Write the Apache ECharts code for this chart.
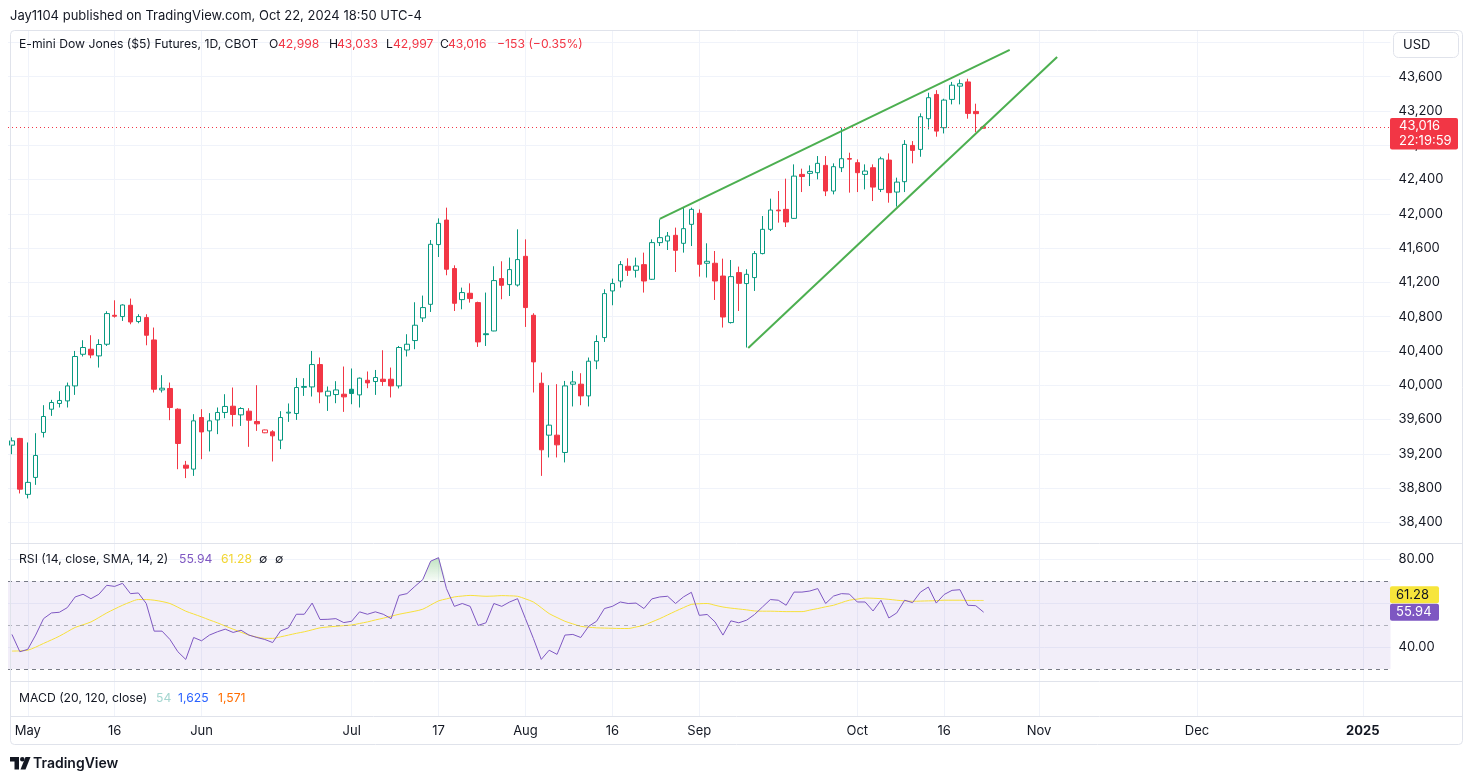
<!DOCTYPE html>
<html><head><meta charset="utf-8">
<script src="https://cdn.jsdelivr.net/npm/echarts@6/dist/echarts.min.js"></script>
<style>html,body{margin:0;padding:0;background:#fff}#c{width:1474px;height:781px}</style>
</head><body><div id="c"></div><script>
// ---------- data ----------
const dates = ['04-29','04-30',
'05-01','05-02','05-03','05-06','05-07','05-08','05-09','05-10','05-13','05-14','05-15','05-16','05-17','05-20','05-21','05-22','05-23','05-24','05-28','05-29','05-30','05-31',
'06-03','06-04','06-05','06-06','06-07','06-10','06-11','06-12','06-13','06-14','06-17','06-18','06-20','06-21','06-24','06-25','06-26','06-27','06-28',
'07-01','07-02','07-03','07-05','07-08','07-09','07-10','07-11','07-12','07-15','07-16','07-17','07-18','07-19','07-22','07-23','07-24','07-25','07-26','07-29','07-30','07-31',
'08-01','08-02','08-05','08-06','08-07','08-08','08-09','08-12','08-13','08-14','08-15','08-16','08-19','08-20','08-21','08-22','08-23','08-26','08-27','08-28','08-29','08-30',
'09-03','09-04','09-05','09-06','09-09','09-10','09-11','09-12','09-13','09-16','09-17','09-18','09-19','09-20','09-23','09-24','09-25','09-26','09-27','09-30',
'10-01','10-02','10-03','10-04','10-07','10-08','10-09','10-10','10-11','10-14','10-15','10-16','10-17','10-18','10-21','10-22','10-23'];

const open = [39300,39379,38726,38924,39449,39720,39787,39817,39992,40361,40420,40342,40478,40816,40801,40933,40743,40789,40528,39945,
39962,39720,39067,39021,39623,39467,39595,39682,39755,39654,39697,39577,39445,39456,39359,39675,39670,39975,39980,40241,
39875,39891,39895,39953,39887,40058,40043,40070,40070,39992,40411,40521,40785,40944,41641,41927,41361,40999,41073,40964,
40600,40633,41244,41174,41169,41504,40816,40023,39417,39417,39215,40012,40012,39875,40283,40556,41100,41216,41388,41341,
41407,41236,41664,41683,41749,41656,41877,42006,41423,41423,41274,40731,41314,41186,41256,41536,41819,42044,42052,41947,
42460,42472,42480,42565,42266,42538,42645,42597,42460,42538,42285,42627,42254,42375,42798,42752,43110,43393,43005,43335,
43490,43539,43195,42998];
const high = [39390,39385,39332,39440,39767,39829,39930,40031,40400,40525,40583,40536,40863,40991,40944,41011,40828,40828,40673,40117,
40031,39730,39117,39662,39720,39674,39740,39895,39973,39743,39732,40000,39482,39475,39697,39787,40085,40082,40400,40323,
39985,40047,40218,40195,40090,40160,40178,40408,40206,40458,40595,40968,41046,41694,41947,42072,41399,41139,41189,40975,
41081,41388,41446,41489,41819,41702,40840,40148,40000,40012,40050,40167,40140,40323,40583,41119,41244,41449,41481,41489,
41547,41702,41936,41788,41839,42072,42072,42052,41656,41566,41477,41461,41384,41353,41566,41974,42177,42266,42410,42577,
42527,42565,42674,42674,42589,43005,42713,42635,42577,42577,42666,42705,42422,42860,42849,43172,43413,43443,43343,43539,
43568,43576,43285,43033];
const low = [39195,38737,38679,38837,39390,39642,39740,39740,39887,40335,40315,40206,40458,40789,40750,40711,40723,40466,39915,39915,
39592,39020,38916,38942,39137,39227,39429,39615,39518,39525,39281,39467,39440,39110,39254,39572,39595,39875,39868,39790,
39700,39790,39689,39778,39740,39965,39887,39992,39857,39962,40335,40420,40738,40855,41496,41283,40866,40886,40964,40447,
40458,40630,41003,41041,41151,40680,39915,38942,39157,39157,39099,39752,39767,39752,40187,40505,40933,41139,41275,41256,
41081,41228,41624,41578,41321,41547,41624,41267,41256,40995,40673,40720,40866,40440,41100,41527,41799,41897,41846,41940,
42254,42324,42402,42207,42227,42487,42247,42254,42285,42149,42254,42130,42084,42254,42589,42666,42985,42900,42938,43277,
43277,43110,42953,42997];
const close = [39351,38787,38866,39180,39635,39798,39822,39992,40335,40440,40353,40475,40836,40805,40936,40738,40801,40583,39953,39965,
39740,39320,39032,39584,39455,39584,39682,39752,39658,39728,39592,39549,39478,39409,39623,39685,39973,39985,40241,39922,
39930,39945,39864,39903,40082,40027,40090,40043,39992,40440,40478,40700,40906,41644,41889,41353,40956,41081,41011,40505,
40590,41221,41166,41349,41466,40906,40272,39246,39534,39304,39992,40038,39875,40280,40510,41069,41186,41407,41341,41391,
41216,41664,41722,41741,41574,41827,42052,41411,41446,41216,40796,41267,41189,41294,41536,41819,42044,42035,41904,42440,
42435,42495,42589,42266,42550,42643,42638,42480,42499,42312,42642,42247,42370,42810,42740,43133,43355,42965,43327,43501,
43518,43172,43169,43016];

const rsi = [45.8,37.9,39.0,45.5,53.0,55.6,55.9,58.0,62.9,64.1,62.1,64.1,68.2,67.7,69.1,64.4,64.7,59.9,47.3,47.3,
43.5,37.9,34.4,44.4,42.9,45.5,47.0,48.2,46.7,47.7,45.5,44.4,43.5,42.1,47.4,48.8,55.0,55.0,60.1,52.6,
52.7,53.0,51.2,51.8,56.1,55.0,56.1,55.0,53.0,63.6,64.4,67.7,70.8,79.2,80.8,66.7,58.6,59.9,58.6,49.9,
51.1,59.9,58.6,60.6,62.1,53.0,44.0,34.4,38.6,36.7,45.5,45.8,44.4,49.5,51.8,57.6,58.6,60.6,59.9,60.1,
57.6,62.0,62.9,63.2,59.9,62.9,65.0,54.5,54.9,51.5,45.5,52.0,51.1,52.3,54.9,58.3,61.7,61.4,59.1,65.1,
65.1,65.6,66.7,59.9,63.3,64.4,64.2,60.6,60.6,56.5,61.4,53.3,55.6,61.4,60.3,65.1,67.4,60.1,64.0,65.9,
66.2,59.1,58.9,55.94];
const rsiSma = [38.2,38.3,38.6,40.0,41.7,43.3,45.0,47.0,49.0,50.2,51.5,53.5,55.6,57.4,59.1,60.6,61.7,61.7,61.4,60.8,
59.9,58.2,56.4,55.1,53.8,52.4,51.1,49.6,48.2,46.8,45.5,44.6,44.0,44.0,44.7,45.5,46.3,47.0,47.9,48.8,
49.2,49.5,49.8,50.1,50.8,51.5,52.4,53.2,54.1,55.0,55.7,56.4,57.3,59.2,61.1,62.0,62.9,63.3,63.6,63.4,
63.2,63.3,63.5,63.4,63.2,62.0,60.6,58.0,55.3,53.5,51.8,50.6,49.5,49.1,48.8,48.7,48.6,48.5,48.5,49.2,
50.0,51.5,53.0,54.7,56.4,58.0,59.5,59.8,59.9,59.1,58.3,57.8,57.4,57.0,56.5,56.4,56.4,56.3,56.2,56.2,
56.2,56.9,57.6,58.4,59.1,60.3,61.4,61.9,62.4,62.3,62.1,61.8,61.4,61.1,60.9,61.0,61.1,61.2,61.4,61.4,
61.4,61.3,61.3,61.28];

const timeLabelIdx = [2,13,24,43,54,65,76,87,107,118,130,150,171];
const timeLabels = ['May','16','Jun','Jul','17','Aug','16','Sep','Oct','16','Nov','Dec','2025'];
const trendUpper = [[82.0,41940],[126.3,43912]];
const trendLower = [[93.2,40434],[132.3,43830]];
const rsiLevels = [70,50,30];
const lastPrice = 43016, countdown = '22:19:59';
const rsiLast = 55.94, smaLast = 61.28;
const totalSlots = 175;

// ---------- chart ----------
const FONT = 'Inter, "Noto Sans", sans-serif';
const TXT = '#131722', GREEN = '#089981', RED = '#f23645', GRIDC = '#f0f3fa';
const chart = echarts.init(document.getElementById('c'));
const cats = [];
for (let i = 0; i < totalSlots; i++) cats.push(i < dates.length ? dates[i] : 'f' + i);
const labelMap = {};
timeLabelIdx.forEach((k, j) => labelMap[k] = timeLabels[j]);

const upData = [], dnData = [];
for (let i = 0; i < dates.length; i++) {
  const up = i === 0 ? true : close[i] >= close[i - 1];
  const item = [open[i], close[i], low[i], high[i]];
  upData.push(up ? item : '-'); dnData.push(up ? '-' : item);
}
const obBase = rsi.map(() => 70);
const obTop = rsi.map(v => Math.max(v, 70) - 70);

const GL = 8, GW = 1382.5;
const vLine = (xi, yi) => ({
  type: 'line', xAxisIndex: xi, yAxisIndex: yi, data: [], silent: true, z: 0,
  markLine: { silent: true, symbol: 'none', z: 0, label: { show: false },
    lineStyle: { color: GRIDC, width: 1, type: 'solid' },
    data: timeLabelIdx.map(k => ({ xAxis: k })) }
});

chart.setOption({
  animation: false,
  textStyle: { fontFamily: FONT },
  grid: [
    { left: GL, width: GW, top: 8.15, height: 548.45 },
    { left: GL, width: GW, top: 537.5, height: 153.5 },
    { left: GL, width: GW, top: 682, height: 34 }
  ],
  xAxis: [
    { type: 'category', gridIndex: 0, data: cats, show: false },
    { type: 'category', gridIndex: 1, data: cats, show: false },
    { type: 'category', gridIndex: 2, data: cats, axisLine: { show: false }, axisTick: { show: false },
      axisLabel: { interval: 0, margin: 9, color: TXT, fontSize: 13, fontFamily: FONT,
        formatter: (v, i) => labelMap[i] === '2025' ? '{b|2025}' : (labelMap[i] || ''),
        rich: { b: { fontWeight: 'bold', fontSize: 13, color: TXT, fontFamily: FONT } } } },
    { type: 'value', gridIndex: 0, min: -0.5, max: totalSlots - 0.5, show: false },
    { type: 'value', gridIndex: 1, min: -0.5, max: totalSlots - 0.5, show: false },
    { type: 'value', gridIndex: 2, min: -0.5, max: totalSlots - 0.5, show: false }
  ],
  yAxis: [
    { type: 'value', gridIndex: 0, position: 'right', min: 38000, max: 44400, interval: 400,
      axisLine: { show: false }, axisTick: { show: false },
      axisLabel: { margin: 8, color: TXT, fontSize: 13, fontFamily: FONT, showMinLabel: false, showMaxLabel: false,
        formatter: v => (v >= 44000 || v <= 38000) ? '' : v.toLocaleString('en-US') },
      splitLine: { show: true, showMinLine: false, showMaxLine: false, lineStyle: { color: GRIDC, width: 1 } } },
    { type: 'value', gridIndex: 1, position: 'right', min: 20, max: 90, interval: 20,
      axisLine: { show: false }, axisTick: { show: false },
      axisLabel: { margin: 8, color: TXT, fontSize: 13, fontFamily: FONT, showMinLabel: false, showMaxLabel: false,
        formatter: v => (v === 80 || v === 40) ? v.toFixed(2) : '' },
      splitLine: { show: true, showMinLine: false, showMaxLine: false, lineStyle: { color: GRIDC, width: 1 } } },
    { type: 'value', gridIndex: 2, min: 0, max: 1, show: false }
  ],
  series: [
    vLine(3, 0), vLine(4, 1), vLine(5, 2),
    { name: 'up', type: 'candlestick', xAxisIndex: 0, yAxisIndex: 0, data: upData, barWidth: 5,
      itemStyle: { color: '#ffffff', color0: GREEN, borderColor: GREEN, borderColor0: GREEN, borderWidth: 1 } },
    { name: 'down', type: 'candlestick', xAxisIndex: 0, yAxisIndex: 0, data: dnData, barWidth: 5,
      itemStyle: { color: '#ffffff', color0: RED, borderColor: RED, borderColor0: RED, borderWidth: 1 } },
    { type: 'line', xAxisIndex: 3, yAxisIndex: 0, data: trendUpper, symbol: 'none', silent: true, z: 5,
      lineStyle: { color: '#4caf50', width: 2 } },
    { type: 'line', xAxisIndex: 3, yAxisIndex: 0, data: trendLower, symbol: 'none', silent: true, z: 5,
      lineStyle: { color: '#4caf50', width: 2 } },
    { type: 'line', xAxisIndex: 3, yAxisIndex: 0, data: [], silent: true,
      markLine: { silent: true, symbol: 'none', label: { show: false },
        lineStyle: { color: RED, width: 1, type: [1, 3] }, data: [{ yAxis: lastPrice }] } },
    { type: 'line', xAxisIndex: 1, yAxisIndex: 1, data: obBase, stack: 'ob', symbol: 'none', silent: true,
      lineStyle: { opacity: 0 },
      markArea: { silent: true, itemStyle: { color: 'rgba(126,87,194,0.1)' }, data: [[{ yAxis: 30 }, { yAxis: 70 }]] },
      markLine: { silent: true, symbol: 'none', label: { show: false },
        data: rsiLevels.map(l => ({ yAxis: l, lineStyle: { color: l === 50 ? 'rgba(120,123,134,0.55)' : '#787b86', width: 1, type: [4, 4] } })) } },
    { type: 'line', xAxisIndex: 1, yAxisIndex: 1, data: obTop, stack: 'ob', symbol: 'none', silent: true,
      lineStyle: { opacity: 0 },
      areaStyle: { color: new echarts.graphic.LinearGradient(0, 0, 0, 1, [
        { offset: 0, color: 'rgba(76,175,80,0.5)' }, { offset: 1, color: 'rgba(76,175,80,0.05)' }]) } },
    { name: 'RSI', type: 'line', xAxisIndex: 1, yAxisIndex: 1, data: rsi, symbol: 'none', z: 4,
      lineStyle: { color: '#7e57c2', width: 1 } },
    { name: 'SMA', type: 'line', xAxisIndex: 1, yAxisIndex: 1, data: rsiSma, symbol: 'none', smooth: 0.3, z: 3,
      lineStyle: { color: '#f7e03b', width: 1 } }
  ]
});

// ---------- overlay texts ----------
const pxPrice = chart.convertToPixel({ xAxisIndex: 3, yAxisIndex: 0 }, [0, lastPrice])[1];
const pxRsi = chart.convertToPixel({ xAxisIndex: 4, yAxisIndex: 1 }, [0, rsiLast])[1];
let pxSma = chart.convertToPixel({ xAxisIndex: 4, yAxisIndex: 1 }, [0, smaLast])[1];
pxSma = Math.min(pxSma, pxRsi - 17.5);
const fmt = v => v.toLocaleString('en-US');
const T = (x, y, text, fill, extra) => Object.assign({ type: 'text', x, y, z: 120,
  style: Object.assign({ text, fill: fill || TXT, fontSize: 13, fontFamily: FONT, verticalAlign: 'middle' }, extra || {}) });
const S = { fontSize: 12.2 };
const LINEC = '#e0e3eb';
const hl = (y, x1, x2) => ({ type: 'line', z: 110, shape: { x1, y1: y, x2, y2: y }, style: { stroke: LINEC, lineWidth: 1 } });

chart.setOption({ graphic: [
  { type: 'rect', z: 100, shape: { x: 0, y: 0, width: 1474, height: 30 }, style: { fill: '#fff' } },
  { type: 'rect', z: 110, shape: { x: 10.5, y: 30.5, width: 1452, height: 714, r: 4 }, style: { fill: 'none', stroke: LINEC, lineWidth: 1 } },
  hl(543.5, 10.5, 1462.5), hl(681.5, 10.5, 1462.5), hl(716.5, 10.5, 1462.5),
  T(10, 16, 'Jay1104 published on TradingView.com, Oct 22, 2024 18:50 UTC-4'),
  T(19, 44, 'E-mini Dow Jones ($5) Futures, 1D, CBOT', TXT, S),
  T(269, 44, 'O', TXT, S), T(278, 44, fmt(open[123]), RED, S),
  T(329, 44, 'H', TXT, S), T(337, 44, fmt(high[123]), RED, S),
  T(386, 44, 'L', TXT, S), T(393, 44, fmt(low[123]), RED, S),
  T(440, 44, 'C', TXT, S), T(448, 44, fmt(close[123]), RED, S),
  T(497, 44, '\u2212153 (\u22120.35%)', RED, S),
  { type: 'rect', z: 115, shape: { x: 1393.5, y: 32.5, width: 65, height: 25, r: 5 }, style: { fill: '#fff', stroke: LINEC, lineWidth: 1 } },
  T(1403, 45, 'USD'),
  { type: 'rect', z: 115, shape: { x: 1390, y: pxPrice - 8.7, width: 68, height: 31.5, r: 2 }, style: { fill: RED } },
  T(1399, pxPrice - 0.5, fmt(lastPrice), '#fff'),
  T(1399, pxPrice + 14, countdown, '#fff'),
  T(19, 559.5, 'RSI (14, close, SMA, 14, 2)', TXT, S),
  T(179, 559.5, rsiLast.toFixed(2), '#7e57c2', S),
  T(221, 559.5, smaLast.toFixed(2), '#f2d530', S),
  T(259, 559.5, '\u2205', TXT, S), T(275, 559.5, '\u2205', TXT, S),
  { type: 'rect', z: 115, shape: { x: 1390, y: pxSma - 8.5, width: 49, height: 17, r: 2 }, style: { fill: '#f7e53b' } },
  T(1396, pxSma, smaLast.toFixed(2), TXT),
  { type: 'rect', z: 115, shape: { x: 1390, y: pxRsi - 8.5, width: 49, height: 17, r: 2 }, style: { fill: '#7e57c2' } },
  T(1396, pxRsi, rsiLast.toFixed(2), '#fff'),
  T(19, 698, 'MACD (20, 120, close)', TXT, S),
  T(156, 698, '54', '#a5d6d0', S), T(178, 698, '1,625', '#2962ff', S), T(218, 698, '1,571', '#ff6d00', S),
  { type: 'rect', z: 120, shape: { x: 10, y: 757, width: 9, height: 4.5 }, style: { fill: TXT } },
  { type: 'rect', z: 120, shape: { x: 14.5, y: 757, width: 4.5, height: 12.5 }, style: { fill: TXT } },
  { type: 'circle', z: 120, shape: { cx: 22.3, cy: 759.3, r: 2.3 }, style: { fill: TXT } },
  { type: 'polygon', z: 120, shape: { points: [[25.5, 757], [30.5, 757], [25.5, 769.5], [20.5, 769.5]] }, style: { fill: TXT } },
  T(33, 763.5, 'TradingView', TXT, { fontSize: 14, fontWeight: 600 })
] });
</script></body></html>
